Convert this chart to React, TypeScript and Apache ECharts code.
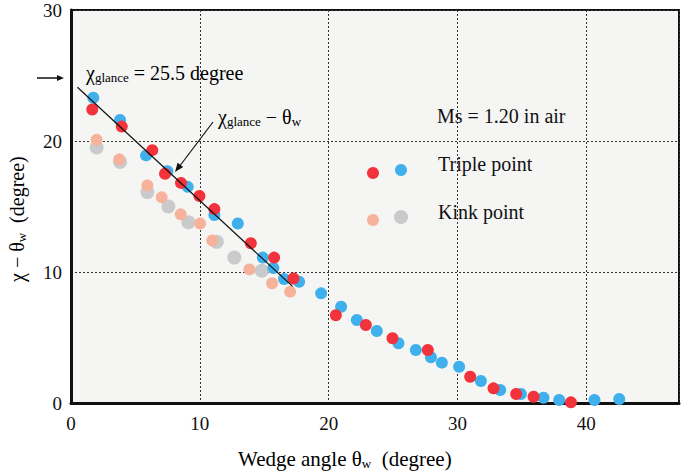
import React, { useEffect, useRef } from "react";
import * as echarts from "echarts";

const xTicks = [0, 10, 20, 30, 40];
const yTicks = [0, 10, 20, 30];

const triplePointRed: number[][] = [
  [1.65, 22.4], [3.94, 21.1], [6.31, 19.3], [7.3, 17.5], [8.54, 16.8], [9.97, 15.8],
  [11.13, 14.8], [13.96, 12.2], [15.77, 11.1], [17.27, 9.5], [20.56, 6.7], [22.89, 5.95],
  [24.96, 4.94], [27.7, 4.05], [30.99, 2.0], [32.8, 1.12], [34.56, 0.69], [35.91, 0.48],
  [38.81, 0.05],
];

const triplePointBlue: number[][] = [
  [1.73, 23.3], [3.81, 21.6], [5.83, 18.9], [7.48, 17.7], [9.06, 16.5], [11.13, 14.35],
  [12.95, 13.7], [14.89, 11.1], [15.71, 10.3], [16.54, 9.47], [17.71, 9.26], [19.42, 8.37],
  [20.97, 7.35], [22.19, 6.34], [23.74, 5.5], [25.42, 4.56], [26.77, 4.05], [27.94, 3.49],
  [28.79, 3.08], [30.13, 2.77], [31.82, 1.68], [33.32, 0.99], [34.93, 0.69], [36.68, 0.4],
  [37.9, 0.23], [40.64, 0.23], [42.56, 0.31],
];

const kinkPointSalmon: number[][] = [
  [1.99, 20.1], [3.75, 18.6], [5.93, 16.6], [7.04, 15.7], [8.52, 14.4], [10.02, 13.7],
  [10.97, 12.4], [13.85, 10.2], [15.61, 9.14], [17.01, 8.5],
];

const kinkPointGray: number[][] = [
  [1.99, 19.5], [3.81, 18.4], [5.93, 16.1], [7.56, 15.0], [9.11, 13.8], [11.32, 12.3],
  [12.68, 11.1], [14.81, 10.1],
];

const glanceLine: number[][] = [
  [0.5, 24.1], [17.2, 8.9],
];

const FONT = "Liberation Serif";
const RED = "#f2333b";
const BLUE = "#3fb0ec";
const SALMON = "#f6b29b";
const GRAY = "#c9cacb";

export default function App() {
  const ref = useRef<HTMLDivElement>(null);

  useEffect(() => {
    if (!ref.current) return;
    const chart = echarts.init(ref.current, undefined, { renderer: "svg" });
    const subRich = {
      a: { fontFamily: FONT, fontSize: 20, color: "#111", lineHeight: 22 },
      s: { fontFamily: FONT, fontSize: 13, color: "#111", lineHeight: 13, verticalAlign: "bottom" as const },
    };
    const axisRich = {
      a: { fontFamily: FONT, fontSize: 21, color: "#111", lineHeight: 23 },
      s: { fontFamily: FONT, fontSize: 13, color: "#111", lineHeight: 13, verticalAlign: "bottom" as const },
    };
    chart.setOption({
      animation: false,
      backgroundColor: "#ffffff",
      textStyle: { fontFamily: FONT },
      grid: {
        left: 71,
        right: 6,
        top: 10,
        bottom: 70,
        show: true,
        backgroundColor: "#f5f6f4",
        borderColor: "#111",
        borderWidth: 2,
      },
      xAxis: {
        type: "value",
        min: 0,
        max: 47.2,
        interval: 10,
        axisLine: { show: true, onZero: false, lineStyle: { color: "#111", width: 3 } },
        axisTick: { show: false },
        axisLabel: {
          margin: 11,
          fontFamily: FONT,
          fontSize: 19,
          color: "#111",
          showMaxLabel: false,
          formatter: (v: number) => (xTicks.includes(v) ? String(v) : ""),
        },
        splitLine: { show: true, lineStyle: { color: "#333", width: 1, type: [2, 2] } },
      },
      yAxis: {
        type: "value",
        min: 0,
        max: 30,
        interval: 10,
        axisLine: { show: true, lineStyle: { color: "#111", width: 3 } },
        axisTick: { show: false },
        axisLabel: {
          margin: 9,
          fontFamily: FONT,
          fontSize: 19,
          color: "#111",
          formatter: (v: number) => (yTicks.includes(v) ? String(v) : ""),
        },
        splitLine: { show: true, lineStyle: { color: "#333", width: 1, type: [2, 2] } },
      },
      series: [
        {
          name: "Kink point (gray)",
          type: "scatter",
          data: kinkPointGray,
          symbolSize: 14,
          itemStyle: { color: GRAY, opacity: 1 },
          z: 2,
        },
        {
          name: "Kink point (salmon)",
          type: "scatter",
          data: kinkPointSalmon,
          symbolSize: 12,
          itemStyle: { color: SALMON, opacity: 1 },
          z: 3,
        },
        {
          name: "Triple point (blue)",
          type: "scatter",
          data: triplePointBlue,
          symbolSize: 12,
          itemStyle: { color: BLUE, opacity: 1 },
          z: 4,
        },
        {
          name: "Triple point (red)",
          type: "scatter",
          data: triplePointRed,
          symbolSize: 12,
          itemStyle: { color: RED, opacity: 1 },
          z: 5,
        },
        {
          name: "glance line",
          type: "line",
          data: glanceLine,
          showSymbol: false,
          symbol: "none",
          lineStyle: { color: "#111", width: 1.2 },
          z: 6,
        },
      ],
      graphic: [
        { type: "line", shape: { x1: 37, y1: 78, x2: 60, y2: 78 }, style: { stroke: "#111", lineWidth: 1.5 } },
        { type: "polygon", shape: { points: [[57, 75], [64, 78], [57, 81]] }, style: { fill: "#111" } },
        {
          type: "text",
          left: 86,
          top: 63,
          style: {
            text: "{a|χ}{s|glance}{a| = 25.5 degree}",
            rich: subRich,
          },
        },
        {
          type: "text",
          left: 218,
          top: 107,
          style: {
            text: "{a|χ}{s|glance}{a| − θ}{s|w}",
            rich: subRich,
          },
        },
        { type: "line", shape: { x1: 213, y1: 122, x2: 179, y2: 167 }, style: { stroke: "#111", lineWidth: 1.2 } },
        { type: "polygon", shape: { points: [[175, 172], [183.2, 166.9], [177.6, 162.7]] }, style: { fill: "#111" } },
        {
          type: "text",
          left: 437,
          top: 106,
          style: { text: "Ms = 1.20 in air", fontFamily: FONT, fontSize: 20, fill: "#111" },
        },
        { type: "circle", shape: { cx: 373, cy: 173, r: 6 }, style: { fill: RED } },
        { type: "circle", shape: { cx: 401, cy: 170, r: 6 }, style: { fill: BLUE } },
        {
          type: "text",
          left: 438,
          top: 154,
          style: { text: "Triple point", fontFamily: FONT, fontSize: 20, fill: "#111" },
        },
        { type: "circle", shape: { cx: 373, cy: 220, r: 6 }, style: { fill: SALMON } },
        { type: "circle", shape: { cx: 401, cy: 217, r: 7 }, style: { fill: GRAY } },
        {
          type: "text",
          left: 438,
          top: 202,
          style: { text: "Kink point", fontFamily: FONT, fontSize: 20, fill: "#111" },
        },
        {
          type: "text",
          left: 238,
          top: 448,
          style: {
            text: "{a|Wedge angle θ}{s|w}{a|  (degree)}",
            rich: axisRich,
          },
        },
        {
          type: "text",
          x: 6,
          y: 282,
          rotation: Math.PI / 2,
          style: {
            text: "{a|χ − θ}{s|w}{a|  (degree)}",
            rich: subRich,
          },
        },
      ],
    });
    return () => chart.dispose();
  }, []);

  return (
    <div
      ref={ref}
      style={{ position: "fixed", left: 0, top: 0, width: 685, height: 473 }}
    />
  );
}
